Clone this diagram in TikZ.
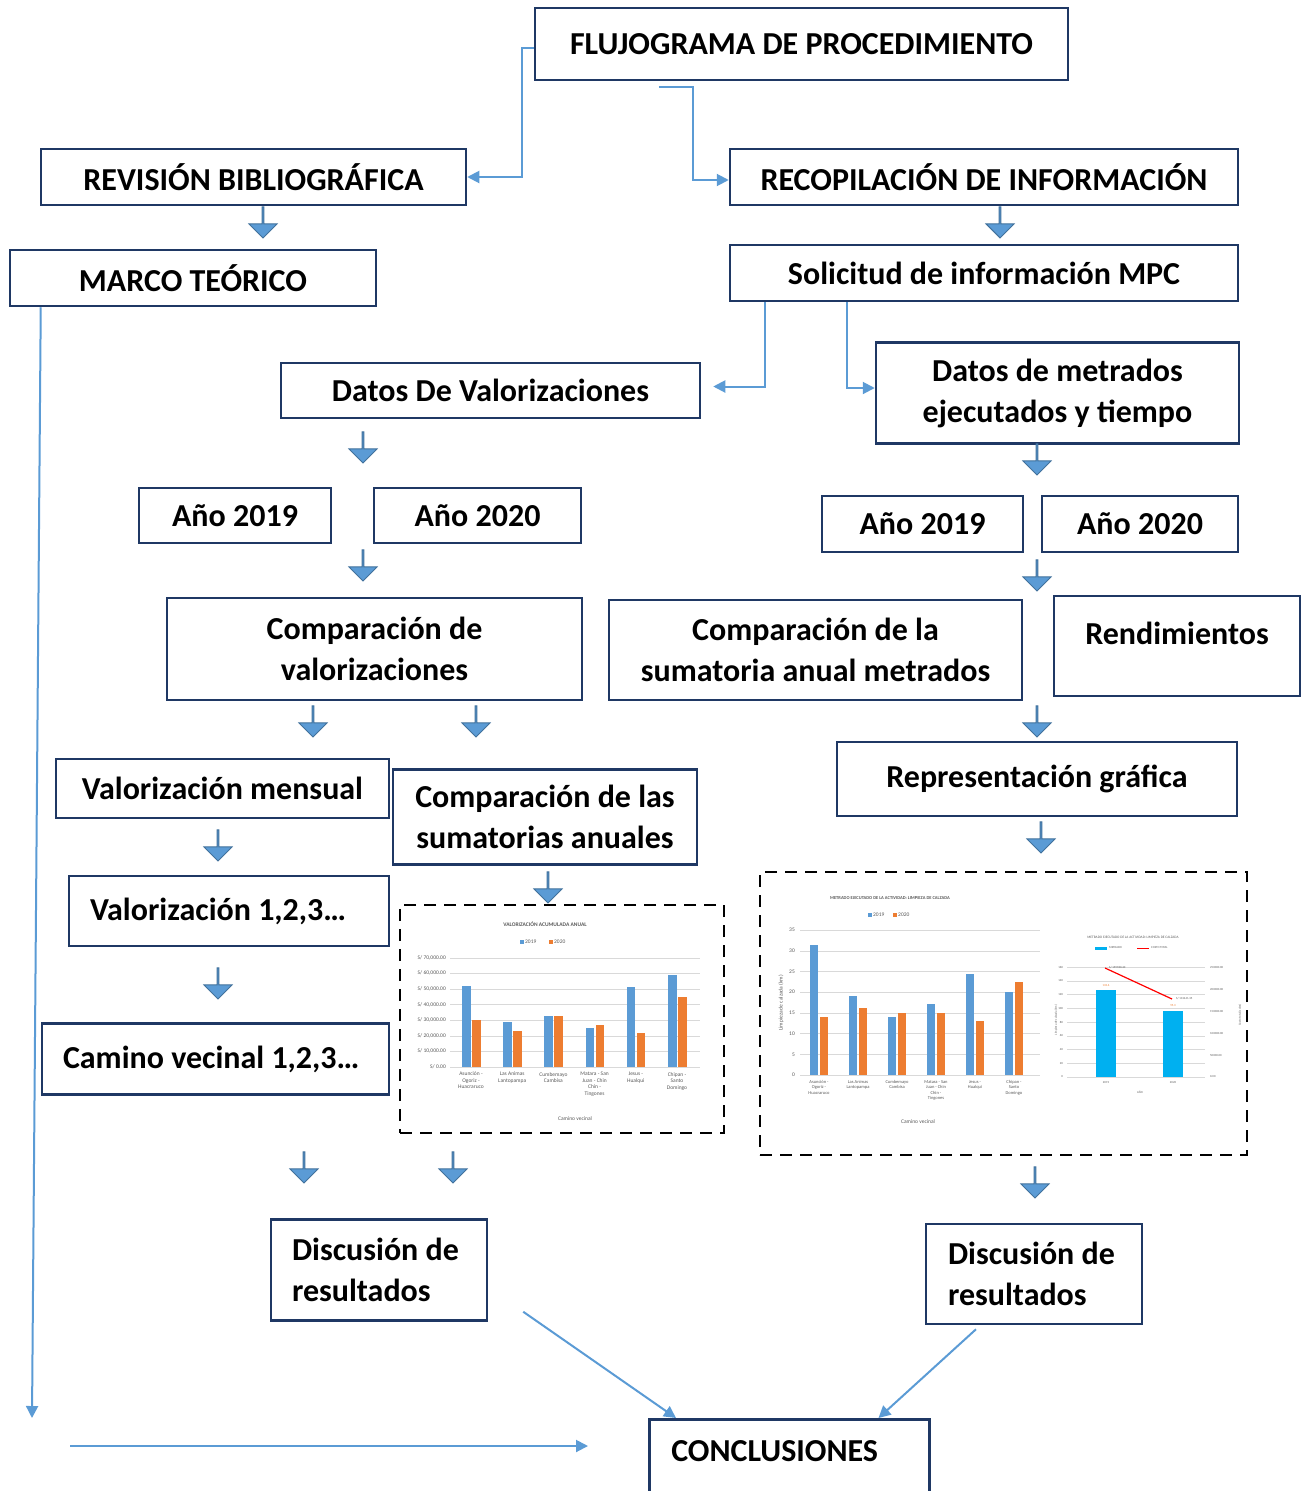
\documentclass[tikz,border=0pt]{standalone}
\usepackage{fontspec}
\setmainfont{Carlito}
\usetikzlibrary{arrows.meta,shapes.arrows}
\definecolor{marino}{HTML}{1F3864}
\definecolor{azul}{HTML}{5B9BD5}
\definecolor{azulborde}{HTML}{41719C}
\definecolor{naranja}{HTML}{ED7D31}
\definecolor{celeste}{HTML}{00B0F0}
\definecolor{rejilla}{HTML}{D9D9D9}
\definecolor{texto}{HTML}{595959}

\begin{document}
\begin{tikzpicture}[x=1pt,y=-1pt,
    caja/.style={draw=marino,line width=2.5pt,inner sep=0pt,align=center,font=\bfseries\fontsize{32}{41}\selectfont},
    izq/.style={caja,align=flush left,inner xsep=21pt},
    bloque/.style={single arrow,draw=azulborde,fill=azul,line width=1pt,inner sep=0pt,minimum height=31pt,minimum width=28pt,single arrow head extend=7pt,rotate=-90},
    conector/.style={azul,line width=2pt,-{Triangle[length=12pt,width=12pt]}},
    rayado/.style={draw,line width=2.5pt,dash pattern=on 12pt off 8pt},
    chico/.style={font=\fontsize{5.5}{6.5}\selectfont,text=texto,inner sep=1pt,align=center}]
    \useasboundingbox (0,0) rectangle (1312,1491);

    \node[caja,minimum width=533pt,minimum height=72pt] (flujo) at (801.5,44) {FLUJOGRAMA DE PROCEDIMIENTO};
    \node[caja,minimum width=425pt,minimum height=56pt] (revision) at (253.5,177) {REVISIÓN BIBLIOGRÁFICA};
    \node[caja,minimum width=508pt,minimum height=56pt] (recop) at (984,177) {RECOPILACIÓN DE INFORMACIÓN};
    \node[caja,minimum width=366pt,minimum height=56pt] (marcoteo) at (193,278) {MARCO TEÓRICO};
    \node[caja,minimum width=508pt,minimum height=56pt] (solicitud) at (984,273) {Solicitud de información MPC};
    \node[caja,minimum width=419pt,minimum height=55pt] (valor) at (490.5,390.5) {Datos De Valorizaciones};
    \node[caja,minimum width=363pt,minimum height=101pt] (metrados) at (1057.5,393) {Datos de metrados\\ejecutados y tiempo};
    \node[caja,minimum width=192pt,minimum height=55pt] (anioa) at (235,515.5) {Año 2019};
    \node[caja,minimum width=207pt,minimum height=55pt] (aniob) at (477.5,515.5) {Año 2020};
    \node[caja,minimum width=201pt,minimum height=56pt] (anioc) at (922.5,524) {Año 2019};
    \node[caja,minimum width=196pt,minimum height=56pt] (aniod) at (1140,524) {Año 2020};
    \node[caja,minimum width=415pt,minimum height=102pt] (compval) at (374.5,649) {Comparación de\\valorizaciones};
    \node[caja,minimum width=413pt,minimum height=100pt] (compmet) at (815.5,650) {Comparación de la\\sumatoria anual metrados};
    \node[caja,minimum width=246pt,text height=48pt,text depth=52pt] (rend) at (1177,646) {Rendimientos};
    \node[caja,minimum width=333pt,minimum height=59pt] (valmens) at (222.5,788.5) {Valorización mensual};
    \node[caja,minimum width=304pt,minimum height=95pt] (compsum) at (545,817) {Comparación de las\\sumatorias anuales};
    \node[caja,minimum width=400pt,minimum height=74pt] (repgraf) at (1037,779) {Representación gráfica};
    \node[izq,text width=278pt,minimum height=70pt] (valnum) at (229,911) {Valorización 1,2,3…};
    \node[izq,text width=305pt,minimum height=71pt] (camino) at (215.5,1059) {Camino vecinal 1,2,3…};
    \node[izq,text width=174pt,minimum height=101pt] (discA) at (379,1270) {Discusión de\\resultados};
    \node[izq,text width=172pt,inner xsep=22pt,minimum height=100pt] (discB) at (1034,1274) {Discusión de\\resultados};
    \node[izq,anchor=north west,text width=236pt,inner xsep=22pt,inner ysep=0pt,text height=42pt,text depth=50pt] (concl) at (648,1418) {CONCLUSIONES};

    \foreach \x/\y [count=\n] in {263/222,1000/222,363/447,363/565,1037/459,1037/575,313/721,476/721,1037/721,218/845,1041/837,548/887,218/983,304/1167,453/1167,1035/1182}
        \node[bloque] (f\n) at (\x,\y) {};

    \draw[conector] ([yshift=-4pt]flujo.west) -- ++(-12,0) |- (revision.east);
    \draw[conector] ([xshift=125pt,yshift=-6pt]flujo.south west) -- ++(34,0) |- ([yshift=-3pt]recop.west);
    \draw[conector] ([xshift=36pt]solicitud.south west) |- ([xshift=12pt,yshift=4pt]valor.east);
    \draw[conector] ([xshift=118pt]solicitud.south west) |- ([yshift=5pt]metrados.west);
    \coordinate (fin) at (32,1418);
    \draw[conector] ([xshift=32pt]marcoteo.south west) -- (fin);
    \coordinate (ini) at (70,1446);
    \coordinate (med) at (588,1446);
    \draw[conector] (ini) -- (med);
    \draw[conector] ([xshift=35pt,yshift=10pt]discA.south east) -- ([xshift=28pt]concl.north west);
    \draw[conector] ([xshift=-58pt,yshift=-4pt]discB.south) -- ([xshift=-52pt]concl.north east);

    \node[rayado,minimum width=324pt,minimum height=228pt] (grafA) at (562,1019) {};
    \node[chico,font=\bfseries\fontsize{5.5}{6.5}\selectfont] (titA) at (545,924) {VALORIZACIÓN ACUMULADA ANUAL};
    \fill[azul] (520,940) rectangle ++(4,4);
    \node[chico,anchor=west] (legA) at (524,942) {2019};
    \fill[naranja] (549,940) rectangle ++(4,4);
    \node[chico,anchor=west] (legB) at (553,942) {2020};
    \foreach \k in {0,...,7}
        \draw[rejilla,line width=.5pt] (450,1067-15.6*\k) -- (700,1067-15.6*\k);
    \node[chico,anchor=east] at (447,1067) {S/ 0.00};
    \foreach \k in {1,...,7}
        \node[chico,anchor=east] at (447,1067-15.6*\k) {S/ \k0,000.00};
    \foreach \a/\b [count=\i from 0] in {52/30,29/23,33/33,25/27,51/22,59/45} {
        \fill[azul] (462+41.2*\i,1067) rectangle ++(8.5,-1.56*\a);
        \fill[naranja] (472+41.2*\i,1067) rectangle ++(8.5,-1.56*\b);
    }
    \foreach \t [count=\i from 0] in {{Asunción -\\Ogoriz -\\Huacraruco},{Las Animas\\Lantopampa},{Cumbemayo\\Cambisa},{Matara - San\\Juan - Chin\\Chin -\\Tingones},{Jesus -\\Hualqui},{Chipan -\\Santo\\Domingo}}
        \node[chico,anchor=north] at (471+41.2*\i,1071) {\t};
    \node[chico] at (575,1119) {Camino vecinal};

    \node[rayado,minimum width=487pt,minimum height=283pt] (grafB) at (1003.5,1013.5) {};
    \node[chico,font=\bfseries\fontsize{4.5}{5}\selectfont] (titB) at (890,898) {METRADO EJECUTADO DE LA ACTIVIDAD: LIMPIEZA DE CALZADA};
    \fill[azul] (868,913) rectangle ++(4,4);
    \node[chico,anchor=west] (legC) at (872,915) {2019};
    \fill[naranja] (893,913) rectangle ++(4,4);
    \node[chico,anchor=west] (legD) at (897,915) {2020};
    \foreach \k in {0,...,7} {
        \draw[rejilla,line width=.5pt] (800,1075-20.7*\k) -- (1040,1075-20.7*\k);
        \pgfmathtruncatemacro{\v}{5*\k}
        \node[chico,anchor=east] at (796,1075-20.7*\k) {\v};
    }
    \foreach \a/\b [count=\i from 0] in {31.5/14,19.2/16.1,14.1/15,17.2/15,24.5/13,20/22.5} {
        \fill[azul] (810+39*\i,1075) rectangle ++(8,-4.14*\a);
        \fill[naranja] (820+39*\i,1075) rectangle ++(8,-4.14*\b);
    }
    \foreach \t [count=\i from 0] in {{Asunción -\\Ogoriz -\\Huacraruco},{Las Animas\\Lantopampa},{Cumbemayo\\Cambisa},{Matara - San\\Juan - Chin\\Chin -\\Tingones},{Jesus -\\Hualqui},{Chipan -\\Santo\\Domingo}}
        \node[chico,font=\fontsize{4.5}{5.5}\selectfont,anchor=north] at (819+39*\i,1079) {\t};
    \node[chico] at (918,1122) {Camino vecinal};
    \node[chico,rotate=90] at (781,1003) {Limpieza de calzada (km)};

    \node[chico,font=\fontsize{3.5}{4}\selectfont] (titC) at (1133,937) {METRADO EJECUTADO DE LA ACTIVIDAD: LIMPIEZA DE CALZADA};
    \fill[celeste] (1095,946.5) rectangle ++(12,3);
    \node[chico,font=\fontsize{3}{4}\selectfont,anchor=west] (legE) at (1108,948) {METRADO};
    \draw[red,line width=1pt] (1137,948) -- ++(12,0);
    \node[chico,font=\fontsize{3}{4}\selectfont,anchor=west] (legF) at (1150,948) {COSTO TOTAL};
    \foreach \k in {0,...,8} {
        \draw[rejilla,line width=.5pt] (1067,1077-13.75*\k) -- (1205,1077-13.75*\k);
        \pgfmathtruncatemacro{\v}{20*\k}
        \node[chico,font=\fontsize{3}{4}\selectfont,anchor=east] at (1064,1077-13.75*\k) {\v};
    }
    \foreach \v [count=\k from 0] in {0,50000,100000,150000,200000,250000}
        \node[chico,font=\fontsize{3}{4}\selectfont,anchor=west] at (1209,1077-21.8*\k) {\v.00};
    \fill[celeste] (1096,1077) rectangle ++(20,-87);
    \fill[celeste] (1163,1077) rectangle ++(20,-66);
    \node[chico,font=\fontsize{3}{4}\selectfont,text=naranja] at (1106,985) {133.6};
    \node[chico,font=\fontsize{3}{4}\selectfont,text=naranja] at (1173,1006) {95.3};
    \draw[red,line width=1.2pt] (1105,968) -- (1172,999);
    \node[chico,font=\fontsize{3}{4}\selectfont,anchor=west] at (1108,968) {S/ 159780.40};
    \node[chico,font=\fontsize{3}{4}\selectfont,anchor=west] at (1175,999) {S/ 113441.35};
    \node[chico,font=\fontsize{3}{4}\selectfont] at (1106,1083) {2019};
    \node[chico,font=\fontsize{3}{4}\selectfont] at (1173,1083) {2020};
    \node[chico,font=\fontsize{3}{4}\selectfont] at (1140,1092) {AÑO};
    \node[chico,font=\fontsize{3}{4}\selectfont,rotate=90] at (1056,1020) {Limpieza de calzada (km)};
    \node[chico,font=\fontsize{3}{4}\selectfont,rotate=90] at (1240,1015) {Costo total (soles)};
\end{tikzpicture}
\end{document}
